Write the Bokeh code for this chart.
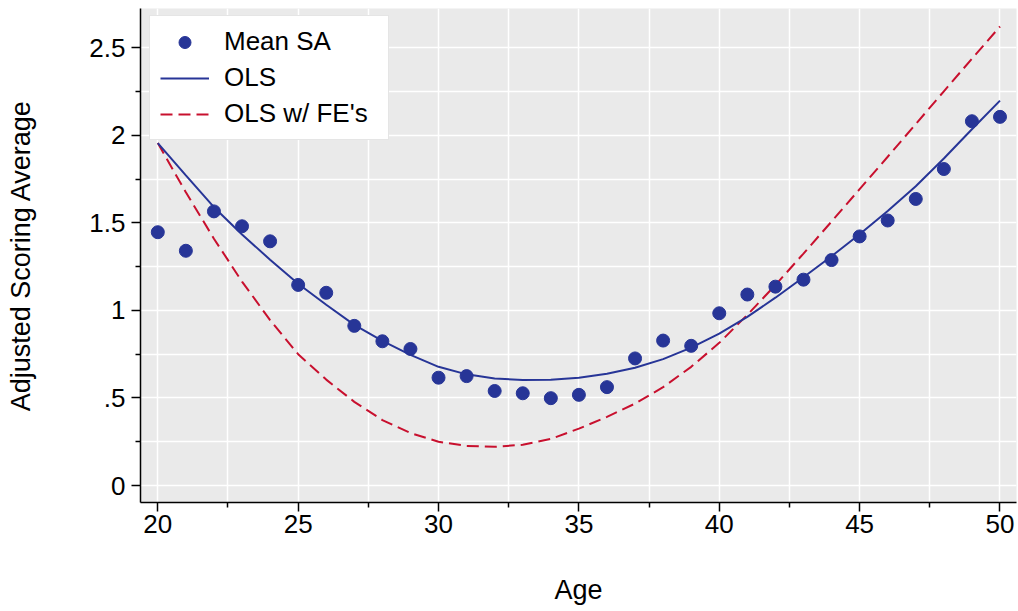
from bokeh.plotting import figure
from bokeh.models import Range1d, FixedTicker, Legend, LegendItem
from bokeh.embed import file_html
from bokeh.resources import INLINE

# ---- data ----
ages = list(range(20, 51))
mean_sa = [1.447, 1.341, 1.566, 1.481, 1.395, 1.146, 1.101, 0.912, 0.824, 0.780,
           0.616, 0.625, 0.540, 0.527, 0.499, 0.518, 0.562, 0.726, 0.828, 0.798,
           0.984, 1.091, 1.136, 1.176, 1.288, 1.423, 1.514, 1.637, 1.808, 2.081, 2.106]
ols_fit = [1.956, 1.772, 1.590, 1.434, 1.290, 1.153, 1.033, 0.918, 0.826, 0.746,
           0.678, 0.635, 0.612, 0.603, 0.604, 0.615, 0.638, 0.673, 0.722, 0.788,
           0.868, 0.963, 1.073, 1.190, 1.310, 1.435, 1.568, 1.710, 1.868, 2.035, 2.199]
ols_fe_fit = [1.956, 1.675, 1.410, 1.165, 0.945, 0.750, 0.605, 0.478, 0.374, 0.300,
              0.250, 0.226, 0.221, 0.233, 0.266, 0.325, 0.392, 0.468, 0.562, 0.678,
              0.815, 0.975, 1.145, 1.325, 1.508, 1.693, 1.878, 2.065, 2.252, 2.438, 2.622]

x_major = [20, 25, 30, 35, 40, 45, 50]
x_minor = [22.5, 27.5, 32.5, 37.5, 42.5, 47.5]
y_major = [0, 0.5, 1, 1.5, 2, 2.5]
y_minor = [0.25, 0.75, 1.25, 1.75, 2.25]
y_tick_labels = ["0", ".5", "1", "1.5", "2", "2.5"]

labels = ["Mean SA", "OLS", "OLS w/ FE's"]
x_title = "Age"
y_title = "Adjusted Scoring Average"

BLUE = "#273597"
RED = "#C8102E"
BG = "#EAEAEA"
FONT = "Liberation Sans"

p = figure(width=1018, height=611, frame_width=876, frame_height=494,
           output_backend="svg", toolbar_location=None,
           x_range=Range1d(19.384, 50.588), y_range=Range1d(-0.097, 2.725),
           min_border_left=140, min_border_right=2, min_border_top=8,
           min_border_bottom=109)
p.background_fill_color = BG
p.border_fill_color = "white"
p.outline_line_color = None

# grid
p.xaxis.ticker = FixedTicker(ticks=x_major, minor_ticks=x_minor)
p.yaxis.ticker = FixedTicker(ticks=y_major, minor_ticks=y_minor)
for g in (p.xgrid, p.ygrid):
    g.grid_line_color = "white"
    g.grid_line_width = 1.5
    g.minor_grid_line_color = "white"
    g.minor_grid_line_width = 1.5

p.yaxis.major_label_overrides = {v: s for v, s in zip(y_major, y_tick_labels)}

for ax in (p.xaxis, p.yaxis):
    ax.axis_line_color = "black"
    ax.axis_line_width = 1.5
    ax.major_tick_line_color = "black"
    ax.major_tick_line_width = 1.5
    ax.minor_tick_line_color = "black"
    ax.minor_tick_line_width = 1.5
    ax.major_tick_in = 0
    ax.major_tick_out = 9
    ax.minor_tick_in = 0
    ax.minor_tick_out = 5
    ax.major_label_text_font = FONT
    ax.major_label_text_font_size = "26px"
    ax.major_label_text_color = "black"
    ax.axis_label_text_font = FONT
    ax.axis_label_text_font_size = "27px"
    ax.axis_label_text_font_style = "normal"
    ax.axis_label_text_color = "black"

p.xaxis.axis_label = x_title
p.yaxis.axis_label = y_title
p.xaxis.major_label_standoff = 3
p.xaxis.axis_label_standoff = 39
p.yaxis.major_label_standoff = 6
p.yaxis.axis_label_standoff = 50
p.yaxis.major_label_orientation = "horizontal"

r_fe = p.line(ages, ols_fe_fit, line_color=RED, line_width=2, line_dash="12 6")
r_ols = p.line(ages, ols_fit, line_color=BLUE, line_width=2)
r_pts = p.scatter(ages, mean_sa, size=13, fill_color=BLUE, line_color=BLUE)

legend = Legend(items=[LegendItem(label=labels[0], renderers=[r_pts]),
                       LegendItem(label=labels[1], renderers=[r_ols]),
                       LegendItem(label=labels[2], renderers=[r_fe])],
                location=(9, 362))
legend.label_text_font = FONT
legend.label_text_font_size = "26px"
legend.label_text_color = "black"
legend.glyph_width = 49
legend.glyph_height = 30
legend.label_height = 30
legend.label_width = 154
legend.label_standoff = 15
legend.spacing = 5
legend.padding = 10
legend.margin = 0
legend.border_line_color = "#CCCCCC"
legend.border_line_width = 1
legend.background_fill_color = "white"
legend.background_fill_alpha = 1
p.add_layout(legend, "center")

open("out.html", "w").write(file_html(p, INLINE))
